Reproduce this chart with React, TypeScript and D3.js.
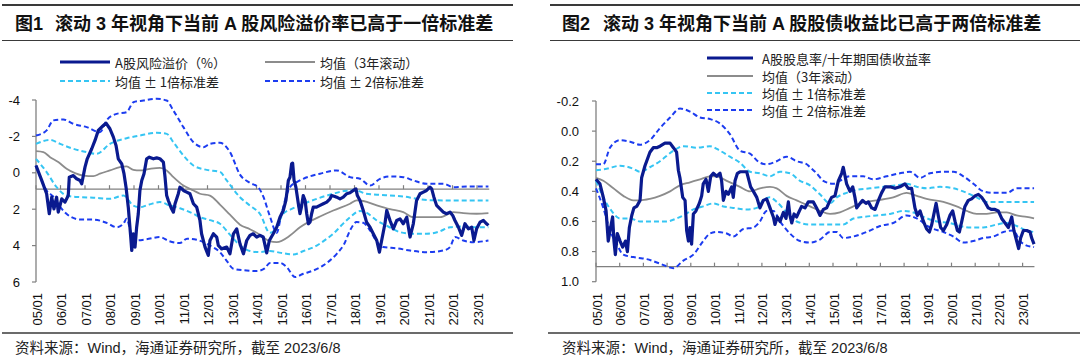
import React from "react";
import * as d3 from "d3";

type Pt = [number, number]; // [months since 2005/01, value]

const xTickLabels = ["05/01","06/01","07/01","08/01","09/01","10/01","11/01","12/01","13/01","14/01","15/01","16/01","17/01","18/01","19/01","20/01","21/01","22/01","23/01"];
const riskYTicks = [-4, -2, 0, 2, 4, 6];
const yieldYTicks = [-0.2, 0, 0.2, 0.4, 0.6, 0.8, 1.0];

const legendRiskLabels = ["A股风险溢价（%）", "均值（3年滚动）", "均值 ± 1倍标准差", "均值 ± 2倍标准差"];
const legendYieldLabels = ["A股股息率/十年期国债收益率", "均值（3年滚动）", "均值 ± 1倍标准差", "均值 ± 2倍标准差"];

// ---------- Figure 1: A-share equity risk premium ----------
const riskMain: Pt[] = [[0,-0.40],[2.8,0.42],[5.2,1.15],[6.5,2.25],[7.7,1.34],[8.8,1.98],[10.1,1.34],[10.9,2.16],[12.6,1.43],[14.2,1.61],[15.8,1.25],[16.3,0.24],[18.3,0.15],[19.9,0.33],[21.6,0.42],[22.4,0.60],[24.0,-0.31],[25.1,-0.77],[27.3,-1.32],[28.9,-1.78],[30.5,-2.33],[33.0,-2.60],[34.3,-2.73],[36.2,-2.42],[37.9,-1.96],[39.2,-1.50],[40.3,-0.77],[42.0,-0.49],[43.1,0.05],[44.1,0.79],[45.2,1.89],[46.4,3.53],[46.9,4.27],[47.7,3.35],[48.5,4.08],[49.3,2.99],[50.1,2.25],[50.9,0.97],[51.8,0.42],[52.9,0.05],[54.2,-0.77],[55.5,-0.86],[57.5,-0.77],[59.1,-0.82],[60.7,-0.77],[62.4,-0.59],[63.2,0.24],[64.0,1.25],[64.8,1.52],[66.4,1.98],[67.3,2.16],[68.1,1.70],[69.7,1.15],[70.5,0.79],[72.2,0.97],[73.8,1.06],[75.4,1.15],[77.1,1.70],[78.7,1.89],[80.3,2.62],[81.1,3.35],[82.8,4.08],[84.4,4.54],[85.2,3.72],[86.9,3.35],[88.5,3.53],[89.3,3.99],[90.9,4.18],[93.4,4.08],[95.0,4.45],[96.7,3.35],[98.3,3.08],[99.9,3.90],[101.6,4.45],[103.2,3.72],[104.8,3.44],[106.4,3.35],[108.1,3.53],[109.7,3.44],[111.3,3.53],[113.0,4.40],[114.3,3.72],[116.2,3.35],[117.9,2.99],[119.5,2.44],[121.1,2.07],[122.4,1.52],[123.6,0.42],[124.4,0.24],[125.2,-0.49],[125.7,-0.53],[126.4,0.42],[127.3,0.79],[128.5,1.70],[129.3,2.25],[130.0,1.89],[130.9,1.25],[131.8,1.52],[132.6,2.25],[133.4,2.80],[134.2,2.71],[135.0,2.25],[135.8,1.89],[137.4,1.89],[139.1,1.79],[140.7,1.70],[142.4,1.61],[144.0,1.43],[144.8,1.25],[146.4,1.30],[147.3,1.34],[148.9,1.43],[150.5,1.34],[152.2,1.15],[153.8,1.10],[155.4,0.97],[156.7,0.88],[157.4,1.25],[158.7,1.52],[160.3,2.07],[161.9,2.71],[163.6,2.99],[165.2,3.35],[166.9,3.72],[168.2,4.36],[169.3,3.72],[170.9,2.80],[171.8,2.07],[173.4,2.62],[175.0,3.08],[176.7,2.62],[178.3,2.53],[179.9,2.80],[181.6,2.44],[183.2,3.53],[184.8,2.80],[186.4,1.52],[188.1,1.15],[189.7,1.06],[191.3,0.97],[193.0,0.79],[193.8,0.88],[194.9,1.34],[196.2,1.79],[197.9,1.98],[199.5,2.16],[201.1,2.25],[202.8,2.16],[204.1,2.34],[205.2,2.62],[206.9,2.99],[208.5,3.44],[210.1,2.80],[211.8,3.08],[213.4,2.99],[214.5,3.72],[215.8,3.08],[217.5,2.71],[219.1,2.62],[220.7,2.80],[221.6,2.89]];
const riskMean: Pt[] = [[0,-1.19],[3.6,-1.14],[6.9,-0.86],[10.9,-0.59],[15.0,-0.22],[19.1,0.02],[23.2,0.15],[28.1,0.18],[31.3,0.05],[36.2,-0.13],[41.1,-0.31],[44.4,-0.35],[47.7,-0.16],[50.9,-0.13],[55.8,-0.22],[60.7,-0.27],[64.0,-0.13],[67.3,0.24],[72.2,0.70],[77.1,0.97],[80.3,1.15],[85.2,1.25],[90.1,1.75],[95.0,2.30],[99.9,2.85],[104.8,3.10],[109.7,3.40],[114.3,3.75],[117.9,3.81],[124.4,3.45],[129.3,2.99],[139.1,2.40],[145.6,2.07],[153.8,1.70],[157.1,1.52],[160.3,1.55],[166.9,1.79],[173.4,2.00],[179.9,2.16],[184.8,2.44],[191.3,2.44],[197.9,2.44],[204.4,2.16],[209.3,2.22],[215.8,2.25],[221.6,2.22]];
const riskMinus1: Pt[] = [[0,-1.59],[6.9,-1.81],[11.8,-1.59],[18.3,-1.32],[24.8,-1.14],[29.7,-1.04],[36.2,-1.59],[44.4,-1.90],[50.9,-2.05],[59.1,-2.20],[64.0,-2.14],[67.3,-1.68],[72.2,-0.95],[77.1,-0.40],[83.6,-0.16],[90.1,-0.05],[93.4,0.42],[99.9,1.34],[104.8,1.80],[109.7,2.26],[114.6,3.30],[117.9,2.99],[121.0,2.26],[125.0,2.00],[129.0,1.80],[137.5,1.43],[145.6,1.15],[151.0,1.00],[156.7,0.97],[161.6,1.15],[167.0,1.20],[173.4,1.25],[180.0,1.30],[186.5,1.43],[192.0,1.50],[202.8,1.52],[212.6,1.52],[221.6,1.52]];
const riskPlus1: Pt[] = [[0,-0.77],[5.2,-0.04],[10.1,0.79],[15.0,1.25],[21.6,1.34],[28.1,1.37],[36.2,1.43],[42.8,1.25],[47.7,1.80],[51.0,1.89],[54.2,1.79],[60.7,1.61],[65.6,1.80],[70.5,1.95],[77.1,2.25],[80.3,2.44],[85.2,2.60],[90.1,2.80],[95.0,3.40],[100.0,4.00],[104.8,4.30],[109.7,4.36],[114.6,4.30],[120.0,4.40],[126.0,4.49],[131.0,4.30],[137.5,4.00],[141.5,3.70],[145.6,3.35],[149.5,2.90],[153.8,2.44],[158.7,2.10],[162.0,2.20],[166.9,2.62],[172.5,2.95],[178.3,3.26],[184.8,3.35],[191.4,3.35],[197.0,3.25],[202.8,2.99],[208.5,2.95],[215.8,2.99],[221.6,2.99]];
const riskMinus2: Pt[] = [[0,-2.05],[5.2,-2.33],[8.5,-2.88],[13.4,-2.93],[18.3,-2.69],[24.8,-2.51],[31.3,-2.23],[34.6,-2.88],[39.5,-3.24],[44.4,-3.33],[47.7,-3.88],[52.6,-3.97],[59.1,-4.07],[64.0,-3.97],[67.3,-3.42],[72.2,-2.51],[77.1,-1.68],[82.0,-1.41],[85.2,-1.59],[90.1,-1.65],[95.0,-1.14],[99.9,0.10],[104.8,0.55],[108.9,0.80],[111.3,1.30],[114.6,2.40],[117.9,3.30],[120.0,2.40],[122.5,1.30],[124.4,0.79],[127.7,0.51],[130.9,0.33],[139.1,0.05],[147.3,-0.13],[153.8,0.24],[158.7,0.33],[163.6,0.70],[168.5,0.33],[173.4,0.20],[179.9,0.24],[184.8,0.42],[191.3,0.60],[199.5,0.60],[204.4,0.79],[212.6,0.75],[221.6,0.75]];
const riskPlus2: Pt[] = [[0,-0.40],[5.2,0.97],[8.4,1.30],[12.0,1.90],[16.7,2.40],[22.0,2.57],[28.1,2.57],[34.6,2.75],[39.5,2.99],[42.8,2.80],[44.4,2.53],[46.5,3.30],[48.5,3.72],[54.2,3.65],[60.7,3.53],[65.0,3.75],[70.5,3.86],[74.0,3.62],[78.7,3.68],[85.2,4.00],[90.1,4.36],[93.5,4.85],[96.6,5.27],[103.2,5.37],[108.1,5.40],[112.0,5.25],[114.6,4.95],[119.5,4.95],[122.8,5.18],[126.9,5.73],[130.9,5.55],[135.8,5.37],[140.7,5.09],[147.3,4.45],[151.0,3.90],[153.8,3.17],[157.0,2.71],[160.3,2.75],[163.6,3.17],[167.0,3.80],[170.1,4.08],[176.7,4.15],[183.2,4.27],[191.3,4.36],[199.5,4.27],[202.8,4.08],[205.2,3.53],[209.3,3.72],[214.2,3.81],[221.6,3.72]];

// ---------- Figure 2: dividend yield / 10Y bond yield ----------
const yieldMain: Pt[] = [[0,0.32],[2.0,0.35],[3.7,0.44],[5.1,0.53],[6.2,0.73],[7.4,0.64],[8.4,0.57],[9.1,0.73],[9.8,0.82],[10.8,0.68],[12.2,0.73],[13.5,0.77],[14.9,0.73],[15.9,0.80],[16.9,0.64],[18.1,0.56],[19.2,0.51],[20.6,0.50],[22.3,0.46],[23.1,0.31],[24.8,0.23],[27.3,0.14],[29.0,0.11],[30.7,0.11],[32.4,0.10],[34.9,0.08],[37.5,0.08],[39.2,0.11],[40.8,0.14],[41.7,0.26],[42.5,0.31],[43.9,0.44],[45.1,0.46],[45.9,0.66],[46.8,0.73],[47.6,0.64],[48.4,0.75],[49.3,0.55],[50.6,0.53],[52.3,0.48],[53.5,0.43],[54.3,0.35],[55.7,0.32],[56.9,0.40],[58.1,0.30],[59.4,0.28],[61.1,0.30],[62.8,0.28],[63.6,0.33],[64.5,0.46],[65.8,0.40],[67.0,0.42],[68.7,0.37],[69.5,0.44],[70.4,0.33],[71.6,0.28],[72.9,0.27],[74.6,0.27],[76.3,0.27],[77.1,0.31],[78.3,0.37],[79.7,0.40],[81.4,0.44],[83.0,0.51],[84.7,0.46],[86.4,0.45],[88.1,0.51],[89.8,0.57],[90.6,0.62],[91.8,0.57],[93.2,0.60],[94.9,0.54],[96.2,0.58],[97.4,0.47],[98.2,0.56],[99.1,0.61],[100.3,0.55],[101.6,0.57],[103.0,0.53],[104.1,0.50],[105.8,0.51],[107.5,0.47],[110.0,0.47],[111.7,0.51],[113.4,0.56],[115.1,0.52],[116.8,0.51],[118.5,0.46],[119.3,0.44],[121.0,0.43],[122.7,0.33],[124.4,0.28],[125.2,0.24],[126.9,0.35],[128.6,0.40],[130.0,0.37],[131.1,0.44],[132.0,0.51],[133.7,0.48],[135.0,0.46],[136.7,0.48],[137.9,0.47],[139.6,0.51],[141.3,0.52],[143.0,0.46],[144.6,0.41],[146.3,0.37],[148.9,0.37],[151.4,0.38],[153.9,0.37],[156.4,0.35],[158.1,0.38],[159.8,0.38],[161.5,0.51],[162.7,0.56],[164.1,0.53],[165.8,0.60],[167.4,0.65],[168.8,0.67],[170.0,0.62],[171.1,0.55],[172.2,0.48],[173.3,0.56],[174.5,0.64],[175.9,0.66],[177.6,0.62],[179.2,0.56],[180.6,0.53],[181.8,0.60],[183.0,0.66],[184.0,0.67],[185.2,0.60],[186.0,0.55],[186.8,0.50],[188.5,0.46],[190.2,0.45],[191.9,0.43],[193.6,0.42],[195.3,0.44],[196.9,0.47],[198.6,0.51],[200.3,0.52],[202.0,0.52],[203.7,0.53],[205.4,0.58],[207.1,0.61],[208.8,0.64],[210.5,0.57],[211.6,0.66],[213.0,0.73],[214.0,0.78],[215.0,0.71],[216.4,0.66],[218.1,0.66],[219.8,0.67],[220.6,0.71],[221.8,0.75]];
const yieldMean: Pt[] = [[0,0.31],[3.7,0.33],[8.8,0.38],[13.8,0.43],[18.9,0.46],[22.3,0.46],[27.3,0.45],[32.4,0.43],[37.5,0.40],[42.5,0.36],[47.6,0.34],[52.7,0.32],[57.7,0.30],[61.1,0.30],[66.2,0.33],[72.9,0.37],[78.0,0.40],[83.0,0.38],[88.1,0.37],[91.5,0.38],[96.5,0.43],[101.6,0.46],[108.4,0.50],[113.4,0.53],[118.5,0.55],[123.5,0.54],[128.6,0.51],[133.7,0.48],[142.1,0.46],[150.5,0.44],[157.3,0.41],[162.4,0.43],[167.4,0.45],[175.9,0.47],[182.6,0.50],[187.7,0.53],[192.7,0.55],[197.8,0.55],[202.9,0.54],[208.0,0.54],[213.0,0.56],[218.1,0.57],[221.8,0.58]];
const yieldMinus1: Pt[] = [[0,0.26],[5.4,0.25],[12.2,0.23],[18.9,0.25],[22.3,0.27],[27.3,0.24],[32.4,0.20],[39.2,0.13],[44.2,0.10],[51.0,0.11],[57.7,0.10],[62.8,0.13],[67.8,0.17],[72.9,0.21],[78.0,0.27],[83.0,0.28],[88.1,0.30],[93.2,0.27],[98.2,0.28],[103.3,0.33],[108.4,0.36],[113.4,0.42],[118.5,0.48],[121.9,0.44],[126.9,0.41],[132.0,0.39],[138.7,0.38],[145.5,0.37],[152.2,0.36],[157.3,0.35],[162.4,0.37],[167.4,0.38],[174.2,0.37],[181.0,0.38],[187.7,0.41],[192.7,0.44],[197.8,0.47],[202.9,0.47],[209.6,0.47],[216.4,0.47],[221.8,0.47]];
const yieldPlus1: Pt[] = [[0,0.33],[3.7,0.44],[7.9,0.53],[12.2,0.58],[17.2,0.58],[22.3,0.60],[29.0,0.60],[35.8,0.60],[40.8,0.58],[44.2,0.56],[49.3,0.52],[54.3,0.50],[59.4,0.48],[64.5,0.50],[69.5,0.51],[76.3,0.52],[81.4,0.51],[84.7,0.46],[88.1,0.44],[91.5,0.47],[96.5,0.54],[101.6,0.60],[108.4,0.62],[118.5,0.62],[125.2,0.62],[130.3,0.58],[135.3,0.57],[142.1,0.56],[148.9,0.55],[155.6,0.53],[160.7,0.54],[165.8,0.57],[172.5,0.60],[179.2,0.61],[184.3,0.63],[189.4,0.64],[196.1,0.64],[202.9,0.62],[208.0,0.61],[213.0,0.63],[218.1,0.66],[221.8,0.67]];
const yieldMinus2: Pt[] = [[0,0.22],[3.7,0.22],[7.1,0.11],[12.2,0.06],[17.2,0.07],[22.3,0.09],[27.3,0.06],[32.4,-0.02],[37.5,-0.09],[42.5,-0.15],[47.6,-0.13],[52.7,-0.09],[57.7,-0.08],[62.8,-0.05],[67.8,0.02],[72.9,0.13],[78.0,0.15],[83.0,0.21],[86.4,0.22],[91.5,0.20],[96.5,0.17],[101.6,0.20],[106.7,0.22],[108.4,0.24],[111.7,0.28],[115.1,0.33],[120.2,0.35],[123.5,0.33],[128.6,0.30],[135.3,0.30],[140.4,0.32],[147.2,0.30],[153.9,0.28],[159.0,0.27],[164.1,0.31],[169.1,0.28],[175.9,0.27],[181.0,0.27],[186.0,0.30],[191.1,0.35],[196.1,0.40],[201.2,0.41],[208.0,0.41],[213.0,0.38],[218.1,0.38],[221.8,0.38]];
const yieldPlus2: Pt[] = [[0,0.38],[3.7,0.51],[7.1,0.66],[10.5,0.75],[13.8,0.82],[20.6,0.84],[25.7,0.85],[32.4,0.88],[39.2,0.91],[44.2,0.86],[49.3,0.82],[54.3,0.73],[57.7,0.68],[61.1,0.67],[66.2,0.68],[69.5,0.70],[74.6,0.65],[79.7,0.64],[83.0,0.60],[86.4,0.53],[89.8,0.53],[93.2,0.60],[98.2,0.68],[103.3,0.73],[108.4,0.74],[113.4,0.72],[118.5,0.67],[121.9,0.67],[125.2,0.71],[130.3,0.70],[137.0,0.67],[143.8,0.63],[150.5,0.61],[157.3,0.56],[162.4,0.58],[169.1,0.64],[175.9,0.67],[181.0,0.70],[186.0,0.74],[191.1,0.73],[196.1,0.71],[201.2,0.70],[206.3,0.67],[211.3,0.66],[214.7,0.73],[218.1,0.76],[221.8,0.77]];

const SANS = "'Liberation Sans', Arial, 'Noto Sans CJK SC', sans-serif";
const CJK = "'Liberation Sans', Arial, 'Noto Sans CJK SC', sans-serif";
const LEG = "'Noto Sans CJK SC', 'Liberation Sans', sans-serif";
const C = { main: "#0a1a8f", mean: "#8c8c8c", sd1: "#35c5f3", sd2: "#1c3cf0", axis: "#808080", frame: "#3a3a3a" };

type Style = { stroke: string; width: number; dash?: string };
const styles: Style[] = [
  { stroke: C.main, width: 3 },
  { stroke: C.mean, width: 1.8 },
  { stroke: C.sd1, width: 2, dash: "5,3" },
  { stroke: C.sd2, width: 2, dash: "5,3" },
];

interface PanelProps {
  frameL: number; frameR: number; bottomL: number;
  titleNo: string; titleNoX: number; titleText: string; titleX: number;
  axisX: number; yearPx: number;
  yDomain: [number, number]; yRange: [number, number]; yTicks: number[]; yFmt: (v: number) => string; yLabelX: number;
  cross: number;
  main: Pt[]; mean: Pt[]; m1: Pt[]; p1: Pt[]; m2: Pt[]; p2: Pt[];
  legendLabels: string[]; legendPos: { x: number; y: number }[]; legendLen: number; legendDx: number;
  sourceX: number;
}

function Panel(p: PanelProps) {
  const xs = d3.scaleLinear().domain([0, 222]).range([p.axisX, p.axisX + (222 / 12) * p.yearPx]);
  const ys = d3.scaleLinear().domain(p.yDomain).range(p.yRange);
  const smooth = d3.line<Pt>().x(d => xs(d[0])).y(d => ys(d[1])).curve(d3.curveMonotoneX);
  const raw = d3.line<Pt>().x(d => xs(d[0])).y(d => ys(d[1]));
  const crossY = ys(p.cross);
  const tickMonths = xTickLabels.map((_, i) => i * 12);
  return (
    <g>
      <line x1={p.frameL} x2={p.frameR} y1={5} y2={5} stroke={C.frame} strokeWidth={2} />
      <text x={p.titleNoX} y={30} fontFamily={CJK} fontWeight="bold" fontSize={18} fill="#111">{p.titleNo}</text>
      <text x={p.titleX} y={30} fontFamily={CJK} fontWeight="bold" fontSize={18} fill="#111" style={{ whiteSpace: "pre" }}>{p.titleText}</text>
      <line x1={p.frameL} x2={p.frameR} y1={40.5} y2={40.5} stroke={C.frame} strokeWidth={1.2} />

      {p.legendLabels.map((lab, i) => {
        const s = styles[i];
        const pos = p.legendPos[i];
        return (
          <g key={lab + i}>
            <line x1={pos.x} x2={pos.x + p.legendLen} y1={pos.y} y2={pos.y} stroke={s.stroke} strokeWidth={s.width} strokeDasharray={s.dash} />
            <text x={pos.x + p.legendDx} y={pos.y} dominantBaseline="central" fontFamily={LEG} fontSize={13} fill="#222" style={{ whiteSpace: "pre" }}>{lab}</text>
          </g>
        );
      })}

      {/* y axis */}
      <line x1={p.axisX} x2={p.axisX} y1={p.yRange[1]} y2={p.yRange[0]} stroke={C.axis} strokeWidth={1.3} />
      {p.yTicks.map(v => (
        <g key={v}>
          <line x1={p.axisX - 4} x2={p.axisX} y1={ys(v)} y2={ys(v)} stroke={C.axis} strokeWidth={1.2} />
          <text x={p.yLabelX} y={ys(v)} textAnchor="end" dominantBaseline="central" fontFamily={SANS} fontSize={13} fill="#111">{p.yFmt(v)}</text>
        </g>
      ))}
      {/* x axis (crosses at value p.cross) */}
      <line x1={p.axisX} x2={xs(222)} y1={crossY} y2={crossY} stroke={C.axis} strokeWidth={1.3} />
      {tickMonths.map(m => (
        <line key={m} x1={xs(m)} x2={xs(m)} y1={crossY - 4} y2={crossY} stroke={C.axis} strokeWidth={1.2} />
      ))}
      {xTickLabels.map((lab, i) => (
        <text key={lab} transform={`translate(${xs(i * 12) + 1},293) rotate(-90)`} textAnchor="end" dominantBaseline="central" fontFamily={SANS} fontSize={13} fill="#111">{lab}</text>
      ))}

      {/* series */}
      <path d={smooth(p.m2) || ""} fill="none" stroke={C.sd2} strokeWidth={2} strokeDasharray="5,3" />
      <path d={smooth(p.p2) || ""} fill="none" stroke={C.sd2} strokeWidth={2} strokeDasharray="5,3" />
      <path d={smooth(p.m1) || ""} fill="none" stroke={C.sd1} strokeWidth={2} strokeDasharray="5,3" />
      <path d={smooth(p.p1) || ""} fill="none" stroke={C.sd1} strokeWidth={2} strokeDasharray="5,3" />
      <path d={smooth(p.mean) || ""} fill="none" stroke={C.mean} strokeWidth={1.8} />
      <path d={raw(p.main) || ""} fill="none" stroke={C.main} strokeWidth={3.2} strokeLinejoin="round" />

      <line x1={p.bottomL} x2={p.frameR} y1={333} y2={333} stroke={C.frame} strokeWidth={1.5} />
      <text x={p.sourceX} y={353} fontFamily={CJK} fontSize={14.5} fill="#222">资料来源：Wind，海通证券研究所，截至 2023/6/8</text>
    </g>
  );
}

export default function App() {
  return (
    <svg width={1080} height={357} style={{ position: "absolute", left: 0, top: 0, background: "#fff" }}>
      <rect width={1080} height={357} fill="#fff" />
      <Panel
        frameL={2} frameR={513} bottomL={2}
        titleNo="图1" titleNoX={15} titleText="滚动 3 年视角下当前 A 股风险溢价率已高于一倍标准差" titleX={55}
        axisX={36} yearPx={24.5}
        yDomain={[-4, 6]} yRange={[100, 282]} yTicks={riskYTicks} yFmt={v => String(v)} yLabelX={20}
        cross={0.9}
        main={riskMain} mean={riskMean} m1={riskMinus1} p1={riskPlus1} m2={riskMinus2} p2={riskPlus2}
        legendLabels={legendRiskLabels}
        legendPos={[{ x: 60, y: 62 }, { x: 265, y: 62 }, { x: 60, y: 81 }, { x: 265, y: 81 }]}
        legendLen={50} legendDx={55}
        sourceX={15}
      />
      <Panel
        frameL={550} frameR={1080} bottomL={548}
        titleNo="图2" titleNoX={562} titleText="滚动 3 年视角下当前 A 股股债收益比已高于两倍标准差" titleX={603}
        axisX={596} yearPx={23.7}
        yDomain={[-0.2, 1.0]} yRange={[101, 281.7]} yTicks={yieldYTicks} yFmt={v => v.toFixed(1)} yLabelX={579}
        cross={0.9}
        main={yieldMain} mean={yieldMean} m1={yieldMinus1} p1={yieldPlus1} m2={yieldMinus2} p2={yieldPlus2}
        legendLabels={legendYieldLabels}
        legendPos={[{ x: 707, y: 58 }, { x: 707, y: 76 }, { x: 707, y: 93 }, { x: 707, y: 110 }]}
        legendLen={46} legendDx={55}
        sourceX={562}
      />
    </svg>
  );
}
